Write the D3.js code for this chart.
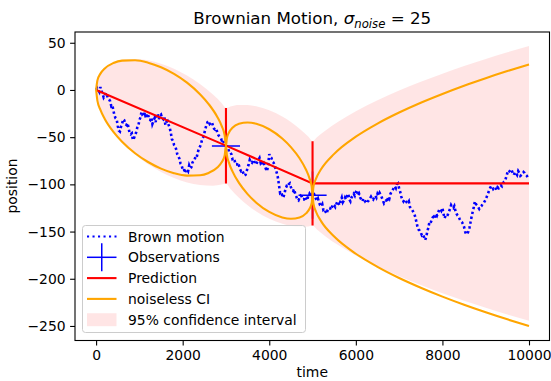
<!DOCTYPE html>
<html><head><meta charset="utf-8">
<script src="https://cdn.jsdelivr.net/npm/d3@7"></script>
<style>body{margin:0;background:#fff} svg{display:block;font-family:"DejaVu Sans",sans-serif}</style>
</head><body><svg id="c" width="551" height="381"></svg>
<script>
// ---- data ----
const bmStep = 25;
const bmValues = [
 0,2,0,-2,3,-1,-4,-8,-6,-3,-5,-9,-10,-12,-17,-16,-22,-27,-30,-31,
 -38,-43,-44,-39,-36,-31,-32,-36,-37,-35,-40,-46,-47,-46,-53,-51,-48,-45,-40,-38,
 -32,-29,-23,-27,-28,-24,-30,-25,-26,-31,-32,-29,-36,-33,-30,-34,-27,-25,-31,-27,
 -26,-30,-31,-28,-37,-34,-33,-37,-40,-45,-52,-54,-58,-59,-63,-68,-70,-73,-78,-80,
 -84,-83,-88,-85,-84,-86,-80,-83,-82,-77,-75,-74,-70,-71,-66,-62,-60,-57,-52,-50,
 -46,-41,-37,-34,-33,-36,-35,-34,-38,-41,-42,-41,-45,-48,-49,-50,-53,-52,-56,-58,
 -59,-60,-62,-66,-66,-68,-73,-72,-75,-79,-79,-77,-80,-84,-86,-85,-88,-91,-90,-87,
 -82,-79,-74,-76,-77,-74,-75,-78,-79,-76,-74,-72,-77,-75,-80,-78,-81,-84,-86,-79,
 -68,-71,-72,-76,-77,-80,-84,-88,-93,-101,-109,-108,-112,-114,-110,-105,-102,-103,-100,-99,
 -103,-106,-107,-105,-110,-113,-116,-117,-114,-112,-113,-116,-116,-113,-115,-117,-112,-110,-113,-111,
 -108,-109,-112,-115,-117,-115,-119,-122,-123,-121,-127,-126,-129,-131,-127,-125,-125,-127,-124,-121,
 -122,-124,-121,-118,-120,-122,-117,-114,-119,-117,-114,-116,-112,-110,-116,-118,-114,-112,-110,-112,
 -108,-106,-112,-110,-114,-116,-118,-115,-116,-119,-120,-118,-117,-115,-113,-115,-116,-113,-112,-114,
 -110,-112,-109,-111,-114,-117,-120,-118,-117,-119,-113,-115,-110,-108,-106,-104,-102,-104,-100,-99,
 -104,-108,-113,-116,-118,-116,-117,-119,-120,-118,-124,-126,-127,-129,-131,-135,-140,-145,-148,-149,
 -151,-154,-153,-156,-159,-156,-150,-146,-140,-141,-138,-135,-134,-136,-131,-133,-130,-127,-126,-128,
 -125,-131,-136,-133,-134,-132,-129,-126,-122,-124,-125,-123,-128,-131,-133,-134,-137,-139,-140,-142,
 -145,-150,-153,-152,-150,-146,-140,-134,-129,-124,-118,-121,-122,-124,-126,-124,-123,-121,-120,-118,
 -116,-113,-110,-107,-104,-102,-102,-105,-104,-103,-106,-103,-104,-102,-101,-102,-99,-97,-96,-92,
 -88,-85,-86,-87,-85,-88,-90,-87,-88,-90,-86,-88,-91,-90,-89,-87,-88,-90,-91,-93,
 -92];

const obsTimes = [3000, 5000];
const obsValues = [-59.3, -111.5];
const obsXErr = [325, 325];
const obsYErr = [25, 25];

const predTimes = [0, 3000, 5000, 10000];
const predValues = [0, -59, -99, -99];
const predErrTimes = [3000, 5000];
const predErrValues = [-59, -99];
const predErr = [40, 44.7];

const noiselessTimes = [0,30,100,200,400,600,900,1200,1500,1800,2100,2400,2600,2800,2900,2970,3000,
 3020,3070,3150,3300,3500,3700,4000,4300,4500,4700,4850,4930,4980,5000,
 5020,5080,5200,5500,6000,6500,7000,7500,8000,8500,9000,9500,10000];
const noiselessUpper = [0,10.1,17.3,22.8,28.6,31.1,31.4,28.9,24.0,17.0,7.7,-4.5,-14.9,-28.6,-38.1,-48.0,-59.3,
 -51.1,-45.0,-40.1,-35.8,-34.4,-35.8,-41.6,-51.4,-60.5,-72.4,-84.5,-93.6,-102.3,-111.5,
 -102.7,-94.0,-83.8,-67.7,-49.5,-35.6,-23.9,-13.5,-4.2,4.5,12.5,20.0,27.1];
const noiselessLower = [0,-11.3,-21.2,-30.7,-44.4,-54.8,-67.0,-76.3,-83.3,-88.2,-90.7,-90.4,-87.9,-82.1,-76.6,-69.4,-59.3,
 -68.5,-77.2,-86.3,-98.4,-110.3,-119.4,-129.2,-135.0,-136.4,-135.0,-130.7,-125.8,-119.7,-111.5,
 -120.3,-129.0,-139.2,-155.3,-173.5,-187.4,-199.2,-209.5,-218.9,-227.5,-235.5,-243.0,-250.1];

const bandTimes = [0,100,300,600,900,1200,1500,1800,2100,2400,2700,2900,3000,
 3100,3300,3500,3700,4000,4300,4500,4700,4900,5000,
 5100,5300,5600,6000,6500,7000,7500,8000,8500,9000,9500,10000];
const bandUpper = [0,17.3,26.6,31.9,32.9,31.4,27.8,22.4,15.3,6.3,-4.8,-13.8,-19,
 -17.4,-15.8,-15.9,-17.3,-21.6,-28.2,-34,-41,-49.4,-54.3,
 -50.2,-42.9,-33.4,-22.6,-10.9,-0.6,8.7,17.3,25.3,32.8,39.9,46.6];
const bandLower = [0,-21.3,-38.4,-55.5,-68.3,-78.6,-86.8,-93.2,-97.9,-100.7,-101.4,-100.2,-99,
 -104.6,-114.2,-122.1,-128.7,-136.4,-141.8,-144,-145,-144.6,-143.7,
 -147.8,-155.1,-164.6,-175.4,-187.1,-197.4,-206.7,-215.3,-223.3,-230.8,-237.9,-244.6];

const xTicks = [0,2000,4000,6000,8000,10000];
const yTicks = [50,0,-50,-100,-150,-200,-250];
const legendLabels = ["Brown motion","Observations","Prediction","noiseless CI","95% confidence interval"];

// ---- layout ----
const svg = d3.select("#c");
const L = 75, R = 549.5, T = 32, B = 340.5;
const x = d3.scaleLinear().domain([0, 10000]).range([96.1, 529]);
const y = d3.scaleLinear().domain([-265.4, 61.4]).range([B, T]);

svg.append("defs").append("clipPath").attr("id","clip")
  .append("rect").attr("x",L).attr("y",T).attr("width",R-L).attr("height",B-T);
const g = svg.append("g").attr("clip-path","url(#clip)");

// band
const band = bandTimes.map((t,i)=>({t, u:bandUpper[i], l:bandLower[i]}));
g.append("path").datum(band)
  .attr("d", d3.area().x(d=>x(d.t)).y0(d=>y(d.l)).y1(d=>y(d.u)).curve(d3.curveMonotoneX))
  .attr("fill","#ff0000").attr("fill-opacity",0.1).attr("stroke","none");

// brownian motion
const bm = bmValues.map((v,i)=>({t:i*bmStep, v}));
g.append("path").datum(bm)
  .attr("d", d3.line().x(d=>x(d.t)).y(d=>y(d.v)))
  .attr("fill","none").attr("stroke","#0000ff").attr("stroke-width",2.6)
  .attr("stroke-dasharray","2.4,2.6");

// observations
obsTimes.forEach((t,i)=>{
  g.append("line").attr("x1",x(t-obsXErr[i])).attr("x2",x(t+obsXErr[i]))
    .attr("y1",y(obsValues[i])).attr("y2",y(obsValues[i]))
    .attr("stroke","#0000ff").attr("stroke-width",1.5);
  g.append("line").attr("x1",x(t)).attr("x2",x(t))
    .attr("y1",y(obsValues[i]-obsYErr[i])).attr("y2",y(obsValues[i]+obsYErr[i]))
    .attr("stroke","#0000ff").attr("stroke-width",1.5);
});

// prediction
g.append("path").datum(predTimes.map((t,i)=>({t, v:predValues[i]})))
  .attr("d", d3.line().x(d=>x(d.t)).y(d=>y(d.v)))
  .attr("fill","none").attr("stroke","#ff0000").attr("stroke-width",2.1);
predErrTimes.forEach((t,i)=>{
  g.append("line").attr("x1",x(t)).attr("x2",x(t))
    .attr("y1",y(predErrValues[i]-predErr[i])).attr("y2",y(predErrValues[i]+predErr[i]))
    .attr("stroke","#ff0000").attr("stroke-width",2.1);
});

// noiseless CI
const nl = noiselessTimes.map((t,i)=>({t, u:noiselessUpper[i], l:noiselessLower[i]}));
["u","l"].forEach(k=>{
  g.append("path").datum(nl)
    .attr("d", d3.line().x(d=>x(d.t)).y(d=>y(d[k])).curve(d3.curveMonotoneX))
    .attr("fill","none").attr("stroke","#ffa500").attr("stroke-width",2.1);
});

// frame
svg.append("rect").attr("x",L).attr("y",T).attr("width",R-L).attr("height",B-T)
  .attr("fill","none").attr("stroke","#000").attr("stroke-width",1.1);

// axes
const fmt = d => d3.format("d")(d).replace("-","\u2212");
const xa = svg.append("g").attr("transform",`translate(0,${B})`)
  .call(d3.axisBottom(x).tickValues(xTicks).tickFormat(fmt).tickSizeOuter(0).tickSize(4.9).tickPadding(4.5));
const ya = svg.append("g").attr("transform",`translate(${L},0)`)
  .call(d3.axisLeft(y).tickValues(yTicks).tickFormat(fmt).tickSizeOuter(0).tickSize(4.9).tickPadding(4.5));
[xa,ya].forEach(a=>{
  a.select(".domain").remove();
  a.selectAll("line").attr("stroke","#000").attr("stroke-width",1.1);
  a.selectAll("text").attr("font-family","DejaVu Sans").attr("font-size","13.9px").attr("fill","#000");
});

// labels
svg.append("text").attr("x",(L+R)/2).attr("y",377).attr("text-anchor","middle")
  .attr("font-size","13.9px").text("time");
svg.append("text").attr("transform","translate(17,186) rotate(-90)").attr("text-anchor","middle")
  .attr("font-size","13.9px").text("position");

const title = svg.append("text").attr("x",(L+R)/2).attr("y",24).attr("text-anchor","middle")
  .attr("font-size","16.7px");
title.append("tspan").text("Brownian Motion, ");
title.append("tspan").attr("font-style","italic").text("σ");
title.append("tspan").attr("font-style","italic").attr("font-size","11.7px").attr("dy",3.5).text("noise");
title.append("tspan").attr("dy",-3.5).text(" = 25");

// legend
const lg = svg.append("g");
lg.append("rect").attr("x",82.5).attr("y",225.5).attr("width",223).attr("height",107)
  .attr("rx",3).attr("fill","#fff").attr("fill-opacity",0.8).attr("stroke","#cccccc").attr("stroke-width",1);
const rowY = i => 236.5 + i*20.8;
const hx1 = 87, hx2 = 116.5;
lg.append("line").attr("x1",hx1).attr("x2",hx2).attr("y1",rowY(0)).attr("y2",rowY(0))
  .attr("stroke","#0000ff").attr("stroke-width",2.1).attr("stroke-dasharray","2.1,3.4");
lg.append("line").attr("x1",hx1).attr("x2",hx2).attr("y1",rowY(1)).attr("y2",rowY(1))
  .attr("stroke","#0000ff").attr("stroke-width",1.5);
lg.append("line").attr("x1",(hx1+hx2)/2).attr("x2",(hx1+hx2)/2).attr("y1",rowY(1)-14).attr("y2",rowY(1)+14)
  .attr("stroke","#0000ff").attr("stroke-width",1.5);
lg.append("line").attr("x1",hx1).attr("x2",hx2).attr("y1",rowY(2)).attr("y2",rowY(2))
  .attr("stroke","#ff0000").attr("stroke-width",2.1);
lg.append("line").attr("x1",hx1).attr("x2",hx2).attr("y1",rowY(3)).attr("y2",rowY(3))
  .attr("stroke","#ffa500").attr("stroke-width",2.1);
lg.append("rect").attr("x",hx1).attr("y",rowY(4)-6.5).attr("width",hx2-hx1).attr("height",13)
  .attr("fill","#ff0000").attr("fill-opacity",0.1);
legendLabels.forEach((s,i)=>{
  lg.append("text").attr("x",128).attr("y",rowY(i)+5).attr("font-size","13.9px").text(s);
});
</script></body></html>
